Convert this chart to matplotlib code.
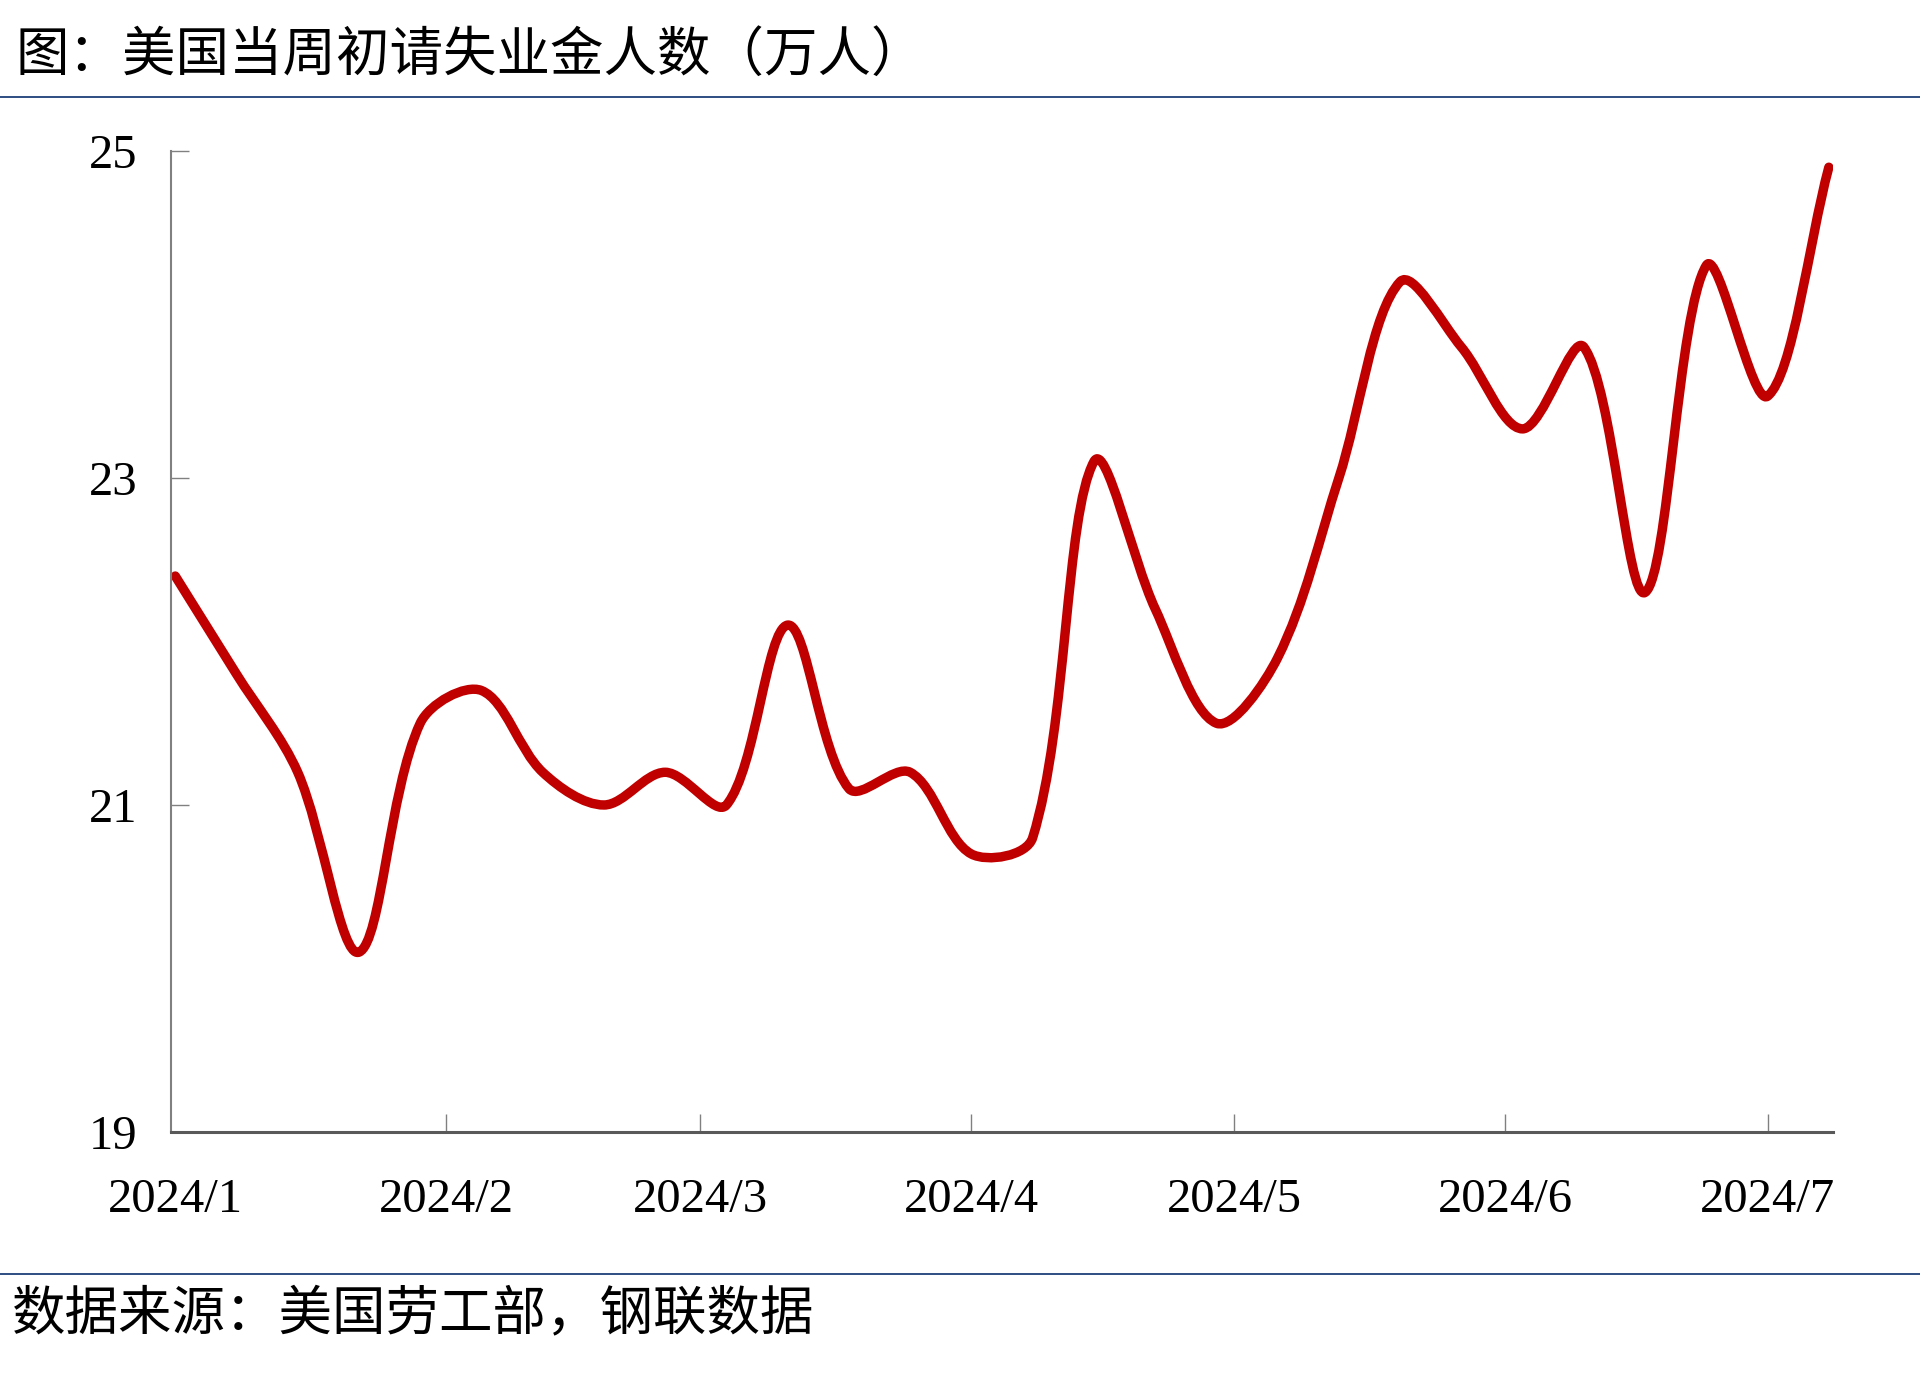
import numpy as np
import pandas as pd
import matplotlib
matplotlib.use("Agg")
import matplotlib.pyplot as plt
import matplotlib.dates as mdates
from matplotlib.path import Path
from matplotlib.patches import PathPatch
from matplotlib.lines import Line2D

plt.rcParams['font.family'] = ['Noto Sans CJK SC', 'DejaVu Sans']

# weekly initial jobless claims, 10k persons
weeks = pd.date_range('2024-01-06', periods=28, freq='7D')
claims = [22.4, 21.8, 21.2, 20.1, 21.5, 21.7, 21.2, 21.0, 21.2, 21.0,
          22.1, 21.1, 21.2, 20.7, 20.8, 23.1, 22.2, 21.5, 21.9, 23.0,
          24.2, 23.8, 23.3, 23.8, 22.3, 24.3, 23.5, 24.9]

yticks = [19, 21, 23, 25]
xtick_dates = pd.date_range('2024-01-01', periods=7, freq='MS') + pd.Timedelta(days=5)
xtick_labels = ['2024/%d' % d.month for d in xtick_dates]

title = '图：美国当周初请失业金人数（万人）'
source = '数据来源：美国劳工部，钢联数据'

fig = plt.figure(figsize=(19.2, 13.74), dpi=100)
ax = fig.add_axes([0.089, 0.1761, 0.8658, 0.7141])
ax.set_xlim(mdates.date2num(weeks[0]) - 0.5, mdates.date2num(weeks[-1]) + 0.5)
ax.set_ylim(19, 25)

# smoothed line like excel: bezier handles scaled by neighbouring segment lengths
x = mdates.date2num(weeks)
y = np.array(claims)
n = len(x)
fig.canvas.draw()
P = ax.transData.transform(np.column_stack([x, y]))
handles_out, handles_in = [], []
for i in range(n):
    a = P[i - 1] if i > 0 else P[i]
    b = P[i + 1] if i < n - 1 else P[i]
    T = b - a
    d0 = np.hypot(*(P[i] - a))
    d1 = np.hypot(*(b - P[i]))
    s = d0 + d1
    handles_out.append(P[i] + T * (d1 / s) / 3 if s else P[i])
    handles_in.append(P[i] - T * (d0 / s) / 3 if s else P[i])
inv = ax.transData.inverted()
verts = [(x[0], y[0])]
codes = [Path.MOVETO]
for i in range(n - 1):
    c1 = inv.transform(handles_out[i])
    c2 = inv.transform(handles_in[i + 1])
    verts += [tuple(c1), tuple(c2), (x[i + 1], y[i + 1])]
    codes += [Path.CURVE4] * 3
ax.add_patch(PathPatch(Path(verts, codes), facecolor='none', edgecolor='#C00000',
                       lw=6.8, capstyle='round', joinstyle='round'))

ax.set_yticks(yticks)
ax.set_yticklabels([str(t) for t in yticks])
ax.set_xticks(mdates.date2num(xtick_dates))
ax.set_xticklabels(xtick_labels)
ax.set_xlim(x[0] - 0.5, x[-1] + 0.5)
ax.set_ylim(19, 25)

for s in ['top', 'right']:
    ax.spines[s].set_visible(False)
ax.spines['left'].set_color('#808080')
ax.spines['left'].set_linewidth(1.5)
ax.spines['bottom'].set_color('#595959')
ax.spines['bottom'].set_linewidth(2.2)
ax.tick_params(axis='both', direction='in', length=13, width=1, color='#808080')
ax.tick_params(axis='y', pad=24)
ax.tick_params(axis='x', pad=33)
ax.xaxis.get_major_ticks()[0].tick1line.set_visible(False)
for lab in ax.get_yticklabels() + ax.get_xticklabels():
    lab.set_family('Liberation Serif')
    lab.set_fontsize(35)

fig.text(0.008, 0.960, title, fontsize=38.5, va='center', ha='left')
fig.text(0.006, 0.0437, source, fontsize=38.5, va='center', ha='left')
fig.add_artist(Line2D([0, 1], [0.9296, 0.9296], transform=fig.transFigure,
                      color='#1F3F7A', lw=1.3))
fig.add_artist(Line2D([0, 1], [0.0728, 0.0728], transform=fig.transFigure,
                      color='#1F3F7A', lw=1.3))

fig.savefig('out.png', dpi=100, facecolor='white')
